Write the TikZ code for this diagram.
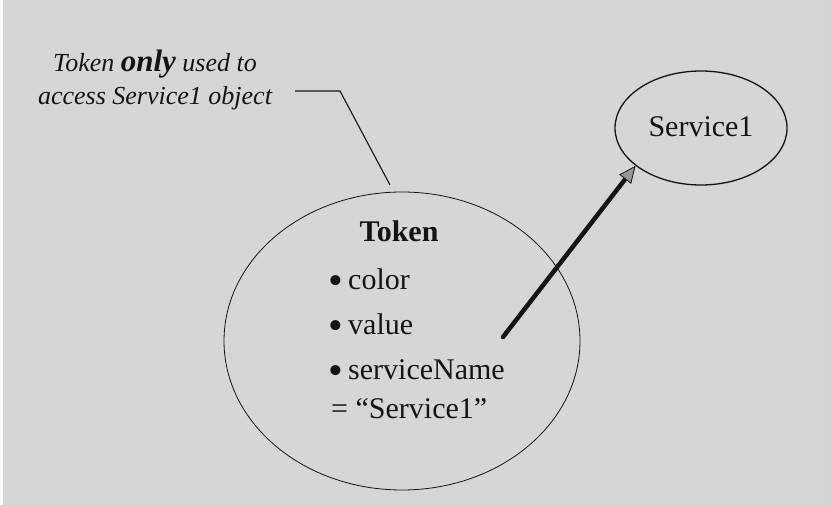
\documentclass[tikz,border=0pt]{standalone}
\usepackage{fontspec}
\setmainfont{Liberation Serif}
\usetikzlibrary{shapes.geometric,arrows.meta}
\definecolor{paper}{RGB}{214,214,214}
\definecolor{ink}{RGB}{20,20,20}
\definecolor{headgray}{RGB}{150,150,150}
\newcommand{\fieldmark}{\makebox[20pt][l]{\raisebox{-4.5pt}{\scalebox{1.4}{•}}}}
\tikzset{
  txt/.style={inner sep=0pt, text=ink, font=\fontsize{30}{36}\selectfont},
  note/.style={inner sep=0pt, text=ink, font=\fontsize{26}{33}\selectfont\itshape},
  obj/.style={ellipse, draw=ink, inner sep=0pt},
  leader/.style={draw=ink, line width=1.1pt},
  ref/.style={draw=ink, line width=4.5pt, line cap=round,
    -{Triangle[length=17pt,width=15pt,fill=headgray,line width=0.8pt]}}
}
\begin{document}
\begin{tikzpicture}[x=1pt,y=-1pt]
  % page
  \fill[paper] (0,0) rectangle (831,505);
  \fill[white!90!paper] (0,0) rectangle (2.5,505);
  \useasboundingbox (0,0) rectangle (831,505);

  % objects
  \node[obj, line width=0.8pt, minimum width=356pt, minimum height=298pt] (token) at (402,341) {};
  \node[obj, line width=1.3pt, minimum width=172pt, minimum height=114pt] (service) at (701,128) {};

  % token contents
  \node[txt, anchor=base, font=\fontsize{30}{36}\selectfont\bfseries] (title) at (399,242) {Token};
  \node[txt, anchor=base west] (f1) at (328,290) {\fieldmark color};
  \node[txt, anchor=base west] (f2) at (328,335) {\fieldmark value};
  \node[txt, anchor=base west] (f3) at (328,380) {\fieldmark serviceName};
  \node[txt, anchor=base west] (f4) at (331,418) {= “Service1”};

  % service label
  \node[txt, anchor=base] (slabel) at (701,137) {Service1};

  % annotation
  \node[note, anchor=base] (n1) at (155,72) {Token {\fontsize{31}{33}\selectfont\bfseries only} used to};
  \node[note, anchor=base] (n2) at (155,105) {access Service1 object};

  \coordinate (leadStart) at (295,91);
  \coordinate (leadBend) at (340,91);
  \coordinate (leadEnd) at (390,185);
  \draw[leader] (leadStart) -- (leadBend) -- (leadEnd);

  % reference from the serviceName field to the service object
  \coordinate (refStart) at (503,337);
  \draw[ref] (refStart) -- (service.210);
\end{tikzpicture}
\end{document}
